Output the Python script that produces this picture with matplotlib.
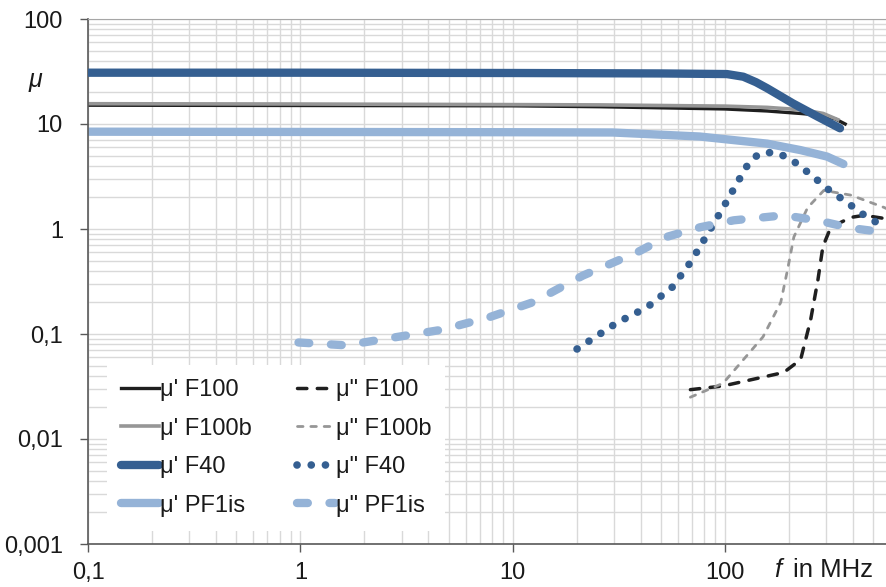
import matplotlib.pyplot as plt
from matplotlib.ticker import FixedLocator, LogLocator, NullFormatter

plt.rcParams['font.family'] = ['Liberation Sans', 'DejaVu Sans']

# mu' (real part) curves, f in MHz
f_F100 = [0.1, 1, 10, 25.8, 100, 158, 226, 272, 330, 368]
mu1_F100 = [15.1, 15.0, 14.9, 14.6, 13.9, 13.3, 12.6, 12.2, 11.2, 10.0]
f_F100b = [0.1, 1, 10, 25.8, 100, 158, 236, 290, 340]
mu1_F100b = [15.6, 15.5, 15.3, 15.2, 14.8, 14.4, 13.6, 12.6, 11.0]
f_F40 = [0.1, 1, 10, 50, 102, 122, 140, 158, 209, 272, 348]
mu1_F40 = [30.8, 30.8, 30.6, 30.3, 29.9, 28.2, 25.0, 21.9, 15.7, 11.8, 9.1]
f_PF1 = [0.1, 1, 10, 29.6, 76, 158, 226, 302, 361]
mu1_PF1 = [8.45, 8.4, 8.35, 8.3, 7.6, 6.5, 5.65, 4.9, 4.16]

# mu'' (imaginary part) curves
f2_F100 = [68.7, 98, 189, 227, 253, 274, 289, 315, 392, 452, 563, 600]
mu2_F100 = [0.0295, 0.032, 0.043, 0.057, 0.136, 0.33, 0.68, 1.04, 1.29, 1.35, 1.26, 1.22]
f2_F100b = [68.7, 98, 151, 183, 197, 211, 245, 292, 392, 563, 600]
mu2_F100b = [0.025, 0.034, 0.094, 0.2, 0.41, 0.84, 1.6, 2.33, 2.1, 1.6, 1.5]
f2_F40 = [20.1, 31, 43, 56.5, 68.7, 82.6, 98, 117, 128, 144, 171, 202, 232, 268,
          305, 352, 405, 467, 538, 600]
mu2_F40 = [0.072, 0.128, 0.18, 0.28, 0.48, 0.89, 1.6, 3.0, 4.1, 5.2, 5.4, 4.7, 3.8, 3.0,
           2.4, 1.96, 1.6, 1.29, 1.11, 1.0]
f2_PF1 = [0.98, 1.64, 2.7, 4.67, 7.8, 12.4, 15, 21.4, 38.6, 53, 76.5, 110, 189, 272,
          392, 563, 600]
mu2_PF1 = [0.083, 0.078, 0.092, 0.11, 0.145, 0.2, 0.245, 0.36, 0.6, 0.84, 1.04, 1.21,
           1.35, 1.21, 1.02, 0.93, 0.92]

dark_blue = '#355f91'
light_blue = '#95b3d7'
black = '#1f1f1f'
gray = '#969696'

fig = plt.figure(figsize=(8.86, 5.87), dpi=100)
ax = fig.add_axes([88/886, 1-544/587, (886-88)/886, (544-19)/587])
ax.set_xscale('log')
ax.set_yscale('log')
ax.set_xlim(0.1, 573)
ax.set_ylim(0.001, 100)

l1, = ax.plot(f_F100, mu1_F100, color=black, lw=2.4, label="μ' F100")
l2, = ax.plot(f_F100b, mu1_F100b, color=gray, lw=2.6, label="μ' F100b")
l3, = ax.plot(f_F40, mu1_F40, color=dark_blue, lw=6, solid_capstyle='round',
              label="μ' F40", zorder=3)
l4, = ax.plot(f_PF1, mu1_PF1, color=light_blue, lw=6, solid_capstyle='round',
              label="μ' PF1is")

d1, = ax.plot(f2_F100, mu2_F100, color=black, lw=2.5, dashes=(2.7, 3.0),
              dash_capstyle='round', label='μ" F100')
d2, = ax.plot(f2_F100b, mu2_F100b, color=gray, lw=2.0, dashes=(2.0, 2.8),
              dash_capstyle='round', label='μ" F100b')
d3, = ax.plot(f2_F40, mu2_F40, color=dark_blue, lw=5.5, dashes=(0.01, 1.85),
              dash_capstyle='round', label='μ" F40')
d4, = ax.plot(f2_PF1, mu2_PF1, color=light_blue, lw=6, dashes=(1.3, 2.6),
              dash_capstyle='round', label='μ" PF1is')

ax.xaxis.set_major_locator(FixedLocator([0.1, 1, 10, 100]))
ax.set_xticklabels(['0,1', '1', '10', '100'])
ax.yaxis.set_major_locator(FixedLocator([0.001, 0.01, 0.1, 1, 10, 100]))
ax.set_yticklabels(['0,001', '0,01', '0,1', '1', '10', '100'])
ax.xaxis.set_minor_locator(LogLocator(base=10, subs=range(2, 10), numticks=20))
ax.yaxis.set_minor_locator(LogLocator(base=10, subs=range(2, 10), numticks=20))
ax.xaxis.set_minor_formatter(NullFormatter())
ax.yaxis.set_minor_formatter(NullFormatter())
ax.tick_params(which='minor', length=0)
ax.tick_params(which='major', length=6, width=1, color='#595959', labelsize=17,
               labelcolor='#1a1a1a')
ax.tick_params(axis='y', pad=12)
ax.tick_params(axis='x', pad=7)

ax.grid(True, which='both', color='#d9d9d9', lw=1)
ax.set_axisbelow(True)
for s in ['left', 'bottom']:
    ax.spines[s].set_color('#595959')
    ax.spines[s].set_linewidth(1.2)
ax.spines['top'].set_color('#a6a6a6')
ax.spines['right'].set_visible(False)

leg = ax.legend(handles=[l1, l2, l3, l4, d1, d2, d3, d4], ncol=2, loc='upper left',
                bbox_to_anchor=(0.0238, 0.341), borderaxespad=0, fontsize=17,
                handlelength=1.6, handletextpad=0.05, columnspacing=1.9,
                labelspacing=0.7, frameon=True, fancybox=False, borderpad=0.6)
leg.get_frame().set_facecolor('white')
leg.get_frame().set_edgecolor('none')
leg.get_frame().set_alpha(1)
for t in leg.get_texts():
    t.set_color('#1a1a1a')

fig.text(35/886, 1-80/587, 'μ', style='italic', fontsize=18, ha='center', va='center',
         color='#1a1a1a')
fig.text(778/886, 1-570/587, 'f', style='italic', fontsize=18.5, ha='center', va='center',
         color='#1a1a1a')
fig.text(793/886, 1-570/587, 'in MHz', fontsize=18.5, ha='left', va='center',
         color='#1a1a1a')

fig.savefig('out.png', dpi=100)
